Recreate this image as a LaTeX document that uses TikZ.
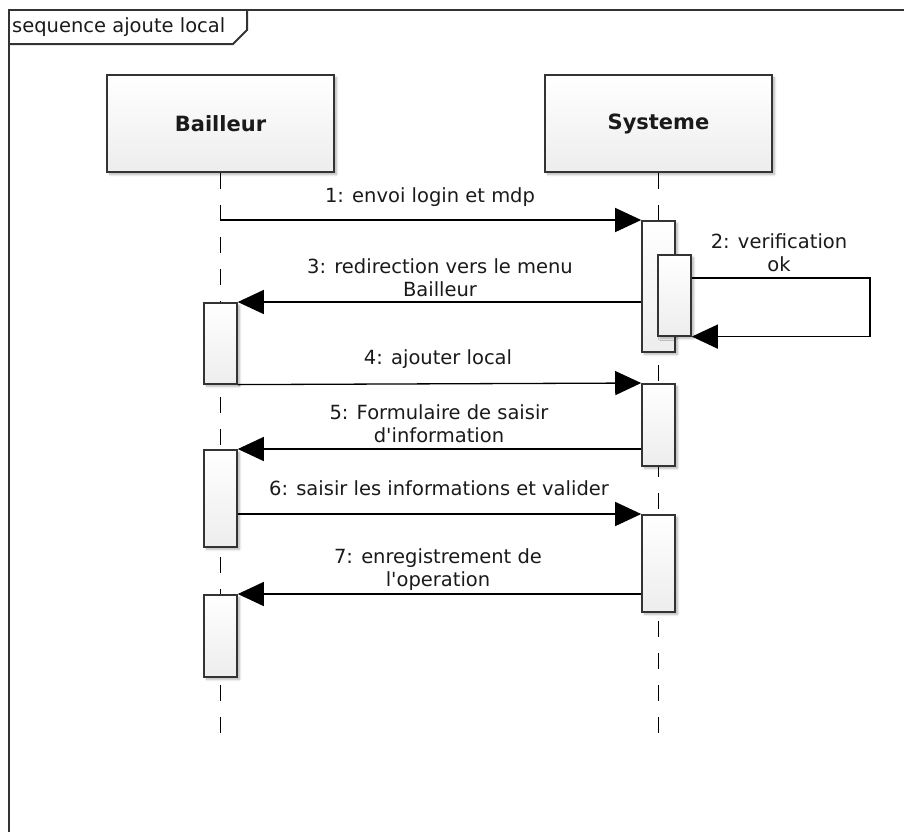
\documentclass[tikz,border=0pt]{standalone}
\usepackage{fontspec}
\setmainfont{DejaVu Sans}[Ligatures=TeXOff]
\usetikzlibrary{arrows.meta,shadows.blur,calc}

\definecolor{edge}{HTML}{333333}
\definecolor{boxlow}{HTML}{EDEDED}
\definecolor{inkc}{HTML}{1A1A1A}

\tikzset{
  soft/.style={blur shadow={shadow xshift=2.5pt, shadow yshift=-2.5pt, shadow blur steps=6, shadow opacity=30}},
  head/.style={draw=edge, line width=1.8pt, minimum width=227pt, minimum height=97pt,
    top color=white, bottom color=boxlow, soft, inner sep=0pt,
    font=\fontsize{21}{25}\selectfont\bfseries, text=inkc},
  act/.style={draw=edge, line width=1.6pt, minimum width=33pt, top color=white,
    bottom color=boxlow, soft, anchor=north, inner sep=0pt},
  life/.style={line width=1.5pt, dash pattern=on 16pt off 16pt},
  msg/.style={line width=1.3pt, -{Triangle[length=26pt,width=24pt]}},
  lab/.style={font=\fontsize{19.5}{23}\selectfont, align=center, text=inkc, inner sep=0pt},
  frame/.style={line width=2pt, draw=edge},
}

\begin{document}
\begin{tikzpicture}[x=1pt, y=-1pt]
  \useasboundingbox (0,0) rectangle (904,831);

  % diagram frame and its name tab
  \draw[frame] (9,845) -- (9,9.5) -- (915,9.5);
  \draw[frame] (9,44) -- (233,44) -- (247,30) -- (247,9.5);
  \node[lab, anchor=west] (title) at (12,27) {sequence ajoute local};

  % lifeline heads
  \node[head] (bailleur) at (220.5,123.5) {Bailleur};
  \node[head] (systeme)  at (658.5,123.5) {Systeme};

  % lifelines
  \coordinate (bEnd) at (220.5,742);
  \coordinate (sEnd) at (658.5,742);
  \draw[life] (bailleur.south) -- (bEnd);
  \draw[life] (systeme.south) -- (sEnd);

  % activation bars
  \node[act, minimum height=131pt] (s1)  at (658.5,220) {};
  \node[act, minimum height=81pt]  (s1n) at (674.5,254) {};
  \node[act, minimum height=82pt]  (s2)  at (658.5,383) {};
  \node[act, minimum height=97pt]  (s3)  at (658.5,514) {};
  \node[act, minimum height=81pt]  (b1)  at (220.5,302) {};
  \node[act, minimum height=97pt]  (b2)  at (220.5,449) {};
  \node[act, minimum height=82pt]  (b3)  at (220.5,594) {};

  % messages
  \draw[msg] (bailleur.south |- s1.north west) -- (s1.north west);
  \coordinate (loop) at (870,278);
  \draw[msg] (s1n.east |- loop) -- (loop) |- (s1n.south east);
  \draw[msg] (s1.west |- b1.north east) -- (b1.north east);
  \draw[msg] (b1.south east) -- (s2.north west);
  \draw[msg] (s2.west |- b2.north east) -- (b2.north east);
  \draw[msg] (b2.east |- s3.north west) -- (s3.north west);
  \draw[msg] (s3.west |- b3.north east) -- (b3.north east);

  % message labels
  \node[lab] (l1) at (430,197)   {1: envoi login et mdp};
  \node[lab] (l2) at (779,252.5) {2: verification\\ok};
  \node[lab] (l3) at (440,278)   {3: redirection vers le menu\\Bailleur};
  \node[lab] (l4) at (438,359)   {4: ajouter local};
  \node[lab] (l5) at (439,423.5) {5: Formulaire de saisir\\d'information};
  \node[lab] (l6) at (439,488)   {6: saisir les informations et valider};
  \node[lab] (l7) at (438,569.5) {7: enregistrement de\\l'operation};
\end{tikzpicture}
\end{document}
